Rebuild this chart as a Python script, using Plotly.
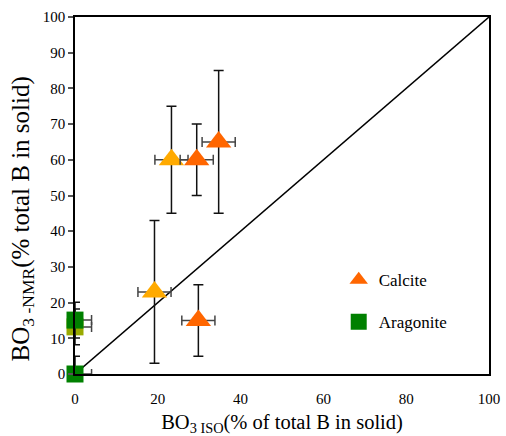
import plotly.graph_objects as go

# Calcite (orange)
cal_o_x = [29.4, 34.7, 29.8]
cal_o_y = [60, 65, 15]
cal_o_xerr = [4, 4, 4]
cal_o_yerr = [10, 20, 10]
# Calcite (yellow-orange)
cal_y_x = [23.3, 19.2]
cal_y_y = [60, 23]
cal_y_xerr = [4, 4]
cal_y_yerr = [15, 20]
# Aragonite (olive, under)
ara_o_x = [0]
ara_o_y = [13.2]
ara_o_xerr = [4]
ara_o_yerr = [5]
# Aragonite (green)
ara_g_x = [0, 0]
ara_g_y = [15.1, 0]
ara_g_xerr = [4, 4]
ara_g_yerr = [5, 5]
# 1:1 line
line_x = [0, 100]
line_y = [0, 100]

FONT = "Liberation Serif"
fig = go.Figure()

fig.add_trace(go.Scatter(x=line_x, y=line_y, mode="lines",
                         line=dict(color="black", width=1.5), showlegend=False, hoverinfo="skip"))

def ex(v):
    return dict(type="data", array=v, color="#444", thickness=1.5, width=5)

def ey(v):
    return dict(type="data", array=v, color="#111", thickness=1.5, width=5)

fig.add_trace(go.Scatter(x=cal_y_x, y=cal_y_y, mode="markers", name="Calcite",
                         marker=dict(symbol="triangle-up", size=22, color="#FFAA00"),
                         error_x=ex(cal_y_xerr), error_y=ey(cal_y_yerr),
                         showlegend=False, cliponaxis=False))
fig.add_trace(go.Scatter(x=cal_o_x, y=cal_o_y, mode="markers", name="Calcite",
                         marker=dict(symbol="triangle-up", size=22, color="#FF6600"),
                         error_x=ex(cal_o_xerr), error_y=ey(cal_o_yerr),
                         showlegend=True, legend="legend", cliponaxis=False))
fig.add_trace(go.Scatter(x=ara_o_x, y=ara_o_y, mode="markers", name="Aragonite",
                         marker=dict(symbol="square", size=17, color="#99AA00"),
                         error_x=ex(ara_o_xerr), error_y=ey(ara_o_yerr),
                         showlegend=False, cliponaxis=False))
fig.add_trace(go.Scatter(x=ara_g_x, y=ara_g_y, mode="markers", name="Aragonite",
                         marker=dict(symbol="square", size=17, color="#008000"),
                         error_x=ex(ara_g_xerr), error_y=ey(ara_g_yerr),
                         showlegend=True, legend="legend2", cliponaxis=False))

leg_common = dict(font=dict(family=FONT, size=17, color="black"), bgcolor="rgba(0,0,0,0)",
                  xanchor="left", yanchor="middle", itemsizing="trace")
fig.update_layout(
    width=506, height=436,
    margin=dict(l=75, r=17, t=17, b=62),
    plot_bgcolor="white", paper_bgcolor="white",
    font=dict(family=FONT, size=15, color="black"),
    legend=dict(x=0.637, y=0.263, **leg_common),
    legend2=dict(x=0.637, y=0.145, **leg_common),
    xaxis=dict(range=[0, 100], tickvals=[0, 20, 40, 60, 80, 100], showgrid=False, zeroline=False,
               showline=True, linecolor="black", linewidth=1.5, mirror=True,
               ticks="", ticklabelstandoff=10, automargin=False,
               tickfont=dict(family=FONT, size=15),
               title=dict(text="BO<sub>3 ISO</sub>(% of total B in solid)",
                          font=dict(family=FONT, size=20.5), standoff=12)),
    yaxis=dict(range=[0, 100], dtick=10, showgrid=False, zeroline=False,
               showline=True, linecolor="black", linewidth=1.5, mirror=True,
               ticks="outside", ticklen=5, tickcolor="#555", tickwidth=1.5,
               automargin=False,
               tickfont=dict(family=FONT, size=15)),
    annotations=[dict(text="BO<sub>3 -NMR</sub>(% total B in solid)", textangle=-90,
                      xref="paper", yref="paper", x=-0.128, y=0.433,
                      xanchor="center", yanchor="middle", showarrow=False,
                      font=dict(family=FONT, size=25, color="black"))],
)
fig.write_html("out.html")
